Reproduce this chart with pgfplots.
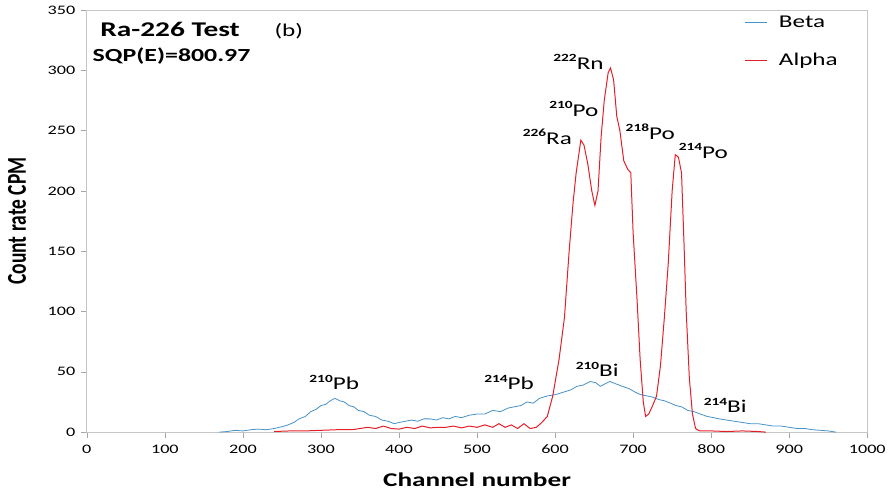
\documentclass[border=0pt]{standalone}
\usepackage{pgfplots}
\pgfplotsset{compat=1.18}
\usepackage{fontspec}
\setmainfont{Carlito}[FakeStretch=1.4]
\newfontfamily\plainfont{Carlito}
\definecolor{betablue}{RGB}{70,145,200}
\definecolor{alphared}{RGB}{228,30,40}
\newcommand{\iso}[2]{{\raisebox{0.42em}{\fontsize{11}{11}\selectfont\bfseries #1}#2}}
\begin{document}
\begin{tikzpicture}
\begin{axis}[
  scale only axis,
  width=782pt, height=423pt,
  xmin=0, xmax=1000, ymin=0, ymax=350,
  xtick={0,100,...,1000}, ytick={0,50,...,350},
  xtick pos=bottom, ytick pos=left,
  tick align=outside,
  major tick length=6pt,
  tick style={gray!70, line width=0.6pt},
  axis line style={gray!45, line width=0.8pt},
  /pgf/number format/assume math mode=true,
  /pgf/number format/1000 sep={},
  ticklabel style={font=\fontsize{13}{13}\selectfont},
  xticklabel style={yshift=-3pt},
  yticklabel style={xshift=-2pt},
  xlabel={\textbf{Channel number}},
  ylabel={\scalebox{1}[1.4]{\plainfont\bfseries Count rate CPM}},
  xlabel style={font=\fontsize{19.5}{19.5}\selectfont, at={(axis description cs:0.5,-0.112)}, anchor=center},
  ylabel style={font=\fontsize{19.5}{19.5}\selectfont, at={(axis description cs:-0.0895,0.5)}, anchor=center},
  legend style={at={(0.838,0.995)}, anchor=north west, draw=none, fill=none,
    font=\fontsize{18}{18}\selectfont, row sep=20pt},
  legend cell align=left,
  legend image code/.code={\draw[#1] (0pt,0pt) -- (23pt,0pt); \path (32pt,0pt);},
]
\addplot[betablue, line width=0.8pt] coordinates {
(170,0)(180,0.5)(190,1.5)(200,1)(210,2)(220,2.5)(230,2)(240,3)(250,4.5)(258,6)(265,8)(272,11)(280,13)(287,17)(294,19)(300,22)(306,23)(312,26)(318,28)(324,26)(330,25)(336,22)(342,21)(348,18)(355,17)(362,14)(370,13)(378,10)(386,9)(394,7)(400,8)(408,9)(416,10)(424,9)(432,11)(440,11)(448,10)(456,12)(464,11)(472,13)(480,12)(490,14)(500,15)(510,15)(520,18)(530,17)(540,20)(548,21)(556,22)(564,25)(572,24)(580,28)(590,30)(600,31)(610,33)(620,35)(628,38)(636,39)(645,42)(652,41)(658,38)(664,40)(670,42)(678,40)(686,38)(695,36)(703,33)(710,31)(718,30)(725,29)(733,27)(740,26)(748,24)(755,22)(762,21)(770,18)(778,17)(786,15)(795,13)(803,12)(810,11)(820,10)(830,9)(840,8)(850,7)(860,7)(870,6)(880,5)(890,5)(900,4)(910,3)(920,3)(930,2)(940,1.5)(950,1)(960,0)
};
\addlegendentry{Beta}
\addplot[alphared, line width=1pt] coordinates {
(240,0.5)(260,1)(280,1)(300,1.5)(320,2)(340,2)(350,3)(360,4)(370,3)(380,5)(390,3)(400,2.5)(410,4)(420,3)(430,5)(440,3.5)(450,4)(460,4)(470,5)(480,3.5)(490,5)(500,4)(510,6)(520,4)(528,7)(536,4)(544,6)(552,3)(560,7)(568,3)(576,4)(583,8)(590,13)(597,30)(605,60)(612,95)(618,150)(623,190)(627,215)(633,242)(637,238)(642,222)(647,200)(651,188)(655,200)(659,245)(663,275)(668,298)(671,302)(675,292)(679,262)(683,250)(688,225)(693,218)(697,215)(700,165)(705,110)(709,60)(713,25)(716,13)(720,15)(725,22)(730,30)(735,55)(740,95)(745,140)(750,200)(754,230)(758,228)(762,215)(765,160)(768,100)(772,45)(776,15)(780,3)(785,1)(800,1)(820,0.5)(840,1)(860,0.5)(870,0)
};
\addlegendentry{Alpha}
\node[font=\fontsize{18}{18}\selectfont] at (axis cs:630,307) {\iso{222}{Rn}};
\node[font=\fontsize{18}{18}\selectfont] at (axis cs:624,268) {\iso{210}{Po}};
\node[font=\fontsize{18}{18}\selectfont] at (axis cs:590,245) {\iso{226}{Ra}};
\node[font=\fontsize{18}{18}\selectfont] at (axis cs:722,249) {\iso{218}{Po}};
\node[font=\fontsize{18}{18}\selectfont] at (axis cs:790,233) {\iso{214}{Po}};
\node[font=\fontsize{18}{18}\selectfont] at (axis cs:317,41) {\iso{210}{Pb}};
\node[font=\fontsize{18}{18}\selectfont] at (axis cs:541,41) {\iso{214}{Pb}};
\node[font=\fontsize{18}{18}\selectfont] at (axis cs:654,52) {\iso{210}{Bi}};
\node[font=\fontsize{18}{18}\selectfont] at (axis cs:818,22) {\iso{214}{Bi}};
\node[anchor=base west, font=\fontsize{21}{21}\selectfont\bfseries] at (rel axis cs:0.0128,0.936) {Ra-226 Test};
\node[anchor=base west, font=\fontsize{18}{18}\selectfont] at (rel axis cs:0.236,0.936) {(b)};
\node[anchor=base west, font=\fontsize{18.5}{18.5}\selectfont\bfseries] at (rel axis cs:0.003,0.877) {SQP(E)=800.97};
\end{axis}
\path ([shift={(-87pt,-58pt)}]current axis.south west) rectangle ([shift={(20pt,10pt)}]current axis.north east);
\end{tikzpicture}
\end{document}
